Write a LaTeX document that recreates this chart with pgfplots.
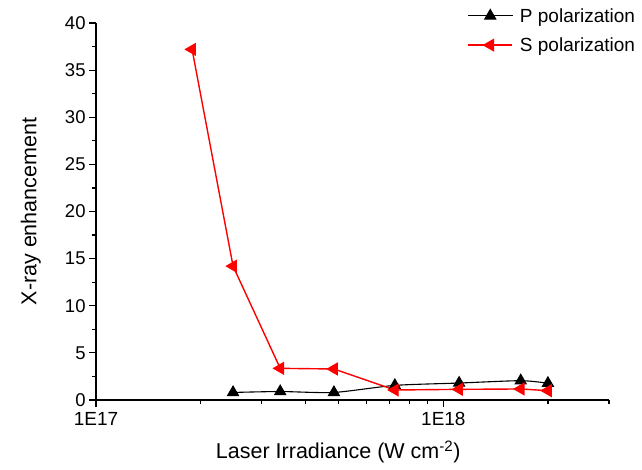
\documentclass[border=0pt]{standalone}
\usepackage{fontspec}
\setmainfont{Liberation Sans}
\usepackage{pgfplots}
\pgfplotsset{compat=1.18}

\pgfplotstableread{
x       y
2.48e17 0.80
3.39e17 0.90
4.84e17 0.80
7.25e17 1.55
1.11e18 1.80
1.67e18 2.05
2.00e18 1.78
}\ppol

\pgfplotstableread{
x       y
1.89e17 37.2
2.48e17 14.2
3.39e17 3.36
4.84e17 3.29
7.25e17 1.06
1.11e18 1.13
1.67e18 1.17
2.00e18 0.99
}\spol

\begin{document}
\begin{tikzpicture}
\begin{axis}[
    scale only axis,
    width=513pt, height=377pt,
    xmode=log,
    xmin=1e17, xmax=3e18,
    ymin=0, ymax=40,
    axis x line*=bottom,
    axis y line*=left,
    axis line style={line width=1.3pt, -},
    tick align=outside,
    major tick length=7pt,
    minor tick length=4.5pt,
    every tick/.style={black, line width=1.2pt},
    xtick={1e17,1e18},
    xticklabels={1E17,1E18},
    minor xtick={2e17,3e17,4e17,5e17,6e17,7e17,8e17,9e17,2e18,3e18},
    ytick={0,5,...,40},
    minor ytick={2.5,7.5,...,37.5},
    /pgf/number format/assume math mode=true,
    xticklabel style={font=\fontsize{19}{21}\selectfont, yshift=-2pt},
    yticklabel style={font=\fontsize{18.5}{20}\selectfont},
    xlabel={Laser Irradiance (W cm\textsuperscript{-2})},
    ylabel={X-ray enhancement},
    xlabel style={font=\fontsize{21.5}{24}\selectfont, at={(axis description cs:0.472,-0.138)}, anchor=center},
    ylabel style={font=\fontsize{21.5}{24}\selectfont, at={(axis description cs:-0.127,0.5)}, anchor=center, rotate=0},
    legend style={draw=none, fill=none, font=\fontsize{19}{21}\selectfont,
        at={(axis description cs:1.055,1.045)}, anchor=north east,
        row sep=10pt, column sep=5pt, inner sep=0pt},
    legend cell align=left,
    legend image code/.code={
        \draw[mark repeat=2, mark phase=2] plot coordinates {(0pt,0pt) (22pt,0pt) (44pt,0pt)};
    },
    clip=false,
]
\addplot[black, line width=1.1pt, smooth, tension=0.4,
    mark=triangle*, mark size=6.3pt, mark options={solid, fill=black}]
    table[x=x, y=y] {\ppol};
\addlegendentry{P polarization}
\addplot[red, line width=1.4pt,
    mark=triangle*, mark size=6.3pt, mark options={solid, fill=red, rotate=90}]
    table[x=x, y=y] {\spol};
\addlegendentry{S polarization}
\end{axis}
\pgfresetboundingbox
\path (-96pt,-70pt) rectangle (546pt,400pt);
\end{tikzpicture}
\end{document}
